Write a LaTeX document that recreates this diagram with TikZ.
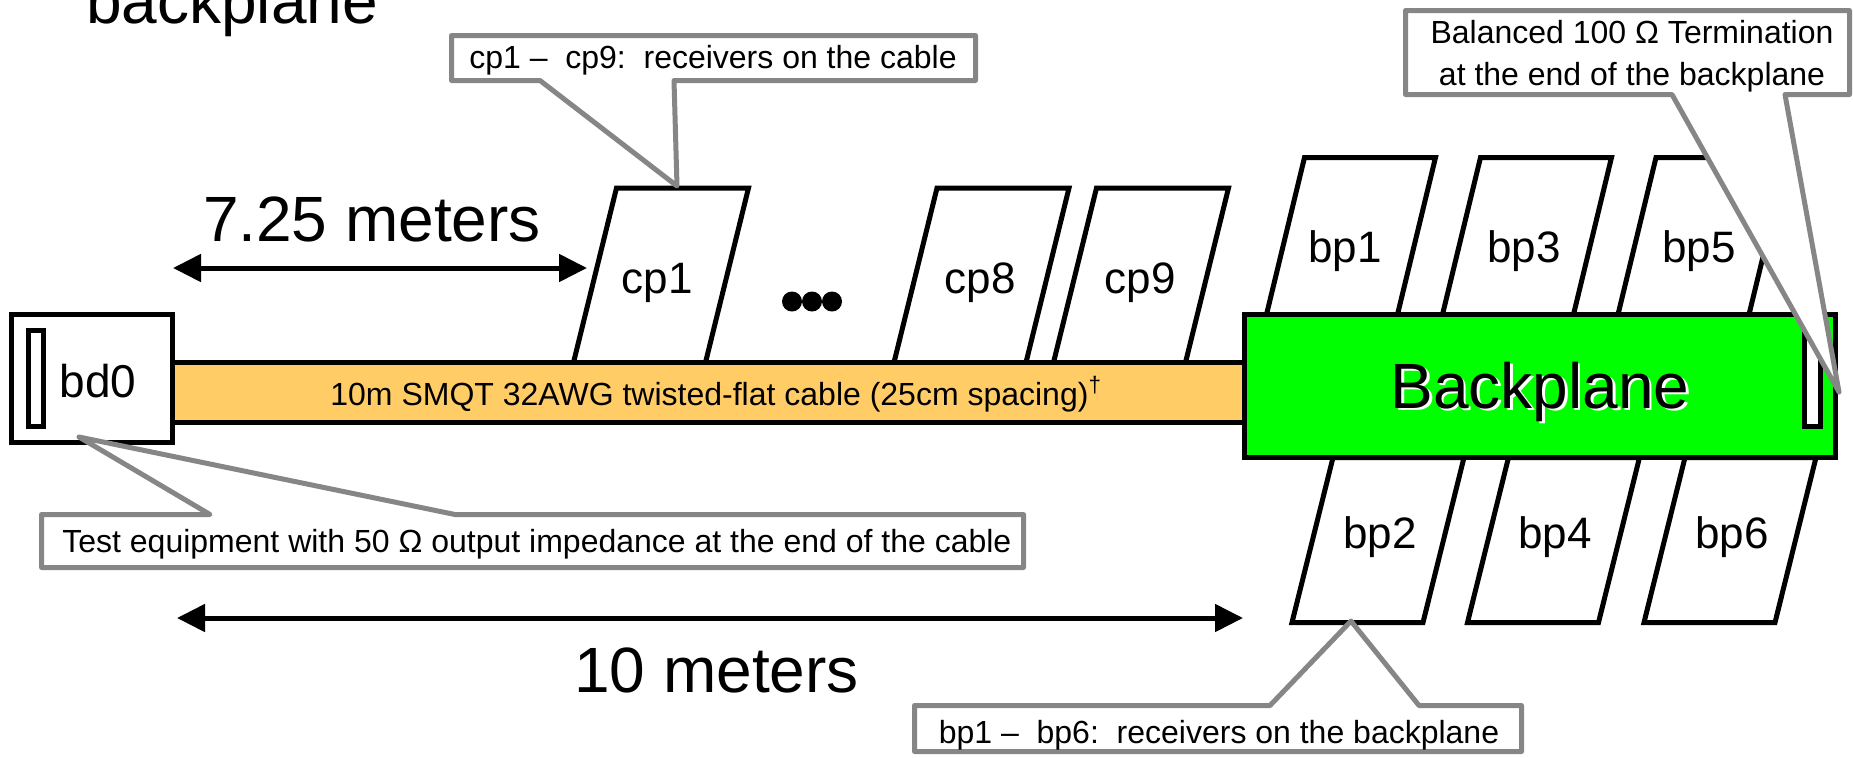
\documentclass[tikz,border=0pt]{standalone}
\usepackage{fontspec}
\setmainfont{Liberation Sans}
\usetikzlibrary{arrows.meta}
\definecolor{cablefill}{HTML}{FFCC66}
\definecolor{bpgreen}{HTML}{00FF00}
\definecolor{notegray}{HTML}{868686}
\tikzset{
  blk/.style={draw=black, line width=2.5pt},
  recvline/.style={blk, fill=white, line join=miter},
  recvtext/.style={font=\fontsize{22}{26}\selectfont, inner sep=0pt, anchor=base},
  labtext/.style={font=\fontsize{23}{27}\selectfont, inner sep=0pt, anchor=base},
  notebox/.style={draw=notegray, line width=2.5pt, fill=white, line join=round},
  notetext/.style={font=\fontsize{16}{21.5}\selectfont, inner sep=0pt, anchor=base},
  bigtext/.style={font=\fontsize{32}{36}\selectfont, inner sep=0pt, anchor=base},
  dimarrow/.style={line width=2.5pt, {Triangle[length=14pt,width=13.5pt]}-{Triangle[length=14pt,width=13.5pt]}},
  dotfill/.style={fill=black, draw=none},
}
% #1 name, #2 cx, #3 cy, #4 width, #5 height, #6 slant, #7 text x, #8 text baseline, #9 label
\newcommand\recvbox[9]{%
  \draw[recvline] (#2-#4/2-#6/2, #3+#5/2) -- (#2+#4/2-#6/2, #3+#5/2)
     -- (#2+#4/2+#6/2, #3-#5/2) -- (#2-#4/2+#6/2, #3-#5/2) -- cycle;
  \node[recvtext] (#1) at (#7,#8) {#9};}
\begin{document}
\begin{tikzpicture}[x=0.5pt, y=-0.5pt]
\useasboundingbox (0,0) rectangle (1853,757);

% title fragment
\node[bigtext] (title) at (232,23) {backplane};

% receivers on the cable
\recvbox{cp1}{661}{275.25}{132}{174.5}{43}{657}{293}{cp1}
\recvbox{cp8}{981.5}{275.25}{132}{174.5}{43}{980}{293}{cp8}
\recvbox{cp9}{1141}{275.25}{132}{174.5}{43}{1140}{293}{cp9}
% receivers on the backplane (top)
\recvbox{bp1}{1351}{236}{131}{157}{38}{1345}{262}{bp1}
\recvbox{bp3}{1527}{236}{131}{157}{38}{1524}{262}{bp3}
\recvbox{bp5}{1702.5}{236}{131}{157}{38}{1699}{262}{bp5}
% receivers on the backplane (bottom)
\recvbox{bp2}{1378}{540}{131}{165}{41}{1380}{548}{bp2}
\recvbox{bp4}{1553.5}{540}{131}{165}{41}{1555}{548}{bp4}
\recvbox{bp6}{1730}{540}{131}{165}{41}{1732}{548}{bp6}

% ellipsis dots
\fill[dotfill] (792,301.5) circle[radius=10];
\fill[dotfill] (812,301.5) circle[radius=10];
\fill[dotfill] (832,301.5) circle[radius=10];

% cable
\draw[blk, fill=cablefill] (170,362.5) rectangle (1246,422.5);
\node[notetext, anchor=base west] (cable) at (330,405) {10m SMQT 32AWG twisted-flat cable (25cm spacing)\textsuperscript{\textdagger}};

% bd0
\draw[blk, fill=white] (11.5,314.5) rectangle (172.5,442.5);
\draw[blk, fill=white] (28.5,330.5) rectangle (43.5,426.5);
\node[labtext] (bd0) at (98,397) {bd0};

% backplane
\draw[blk, fill=bpgreen] (1244.5,314.5) rectangle (1835.5,457.5);
\draw[blk, fill=white] (1804.5,327.5) rectangle (1820.5,426.5);
\node[bigtext, text=white] (bptextsh) at (1542.5,410.5) {Backplane};
\node[bigtext] (bptext) at (1540,408) {Backplane};

% dimension arrows
\coordinate (aL) at (173,268);
\coordinate (aR) at (587,268);
\draw[dimarrow] (aL) -- (aR);
\node[bigtext] (d725) at (372,241) {7.25 meters};
\coordinate (bL) at (177,618);
\coordinate (bR) at (1243,618);
\draw[dimarrow] (bL) -- (bR);
\node[bigtext] (d10) at (716.5,692) {10 meters};

% callout: cp1 - cp9
\coordinate (cptip) at (677,186);
\draw[notebox] (451.5,35.5) -- (975.5,35.5) -- (975.5,80.5) -- (674,80.5) -- (cptip) -- (540,80.5) -- (451.5,80.5) -- cycle;
\node[notetext] (cpnote) at (713,68) {cp1 –\ \ cp9:\ \ receivers on the cable};

% callout: termination
\coordinate (termtip) at (1839,392);
\draw[notebox] (1405.5,10.5) -- (1849.5,10.5) -- (1849.5,94.5) -- (1785,94.5) -- (termtip) -- (1672,94.5) -- (1405.5,94.5) -- cycle;
\node[font=\fontsize{16}{21}\selectfont, inner sep=0pt, align=center] (termnote) at (1632,56) {Balanced 100 Ω Termination\\at the end of the backplane};

% callout: test equipment
\coordinate (bdtip) at (79,437);
\draw[notebox] (41.5,514.5) -- (210,514.5) -- (bdtip) -- (455,514.5) -- (1023.5,514.5) -- (1023.5,567.5) -- (41.5,567.5) -- cycle;
\node[notetext, anchor=base west] (bdnote) at (62,552) {Test equipment with 50 Ω output impedance at the end of the cable};

% callout: bp1 - bp6
\coordinate (bptip) at (1351,621);
\draw[notebox] (914.5,705.5) -- (1270,705.5) -- (bptip) -- (1419,705.5) -- (1521.5,705.5) -- (1521.5,751.5) -- (914.5,751.5) -- cycle;
\node[notetext] (bpnote) at (1219,743) {bp1 –\ \ bp6:\ \ receivers on the backplane};
\end{tikzpicture}
\end{document}
